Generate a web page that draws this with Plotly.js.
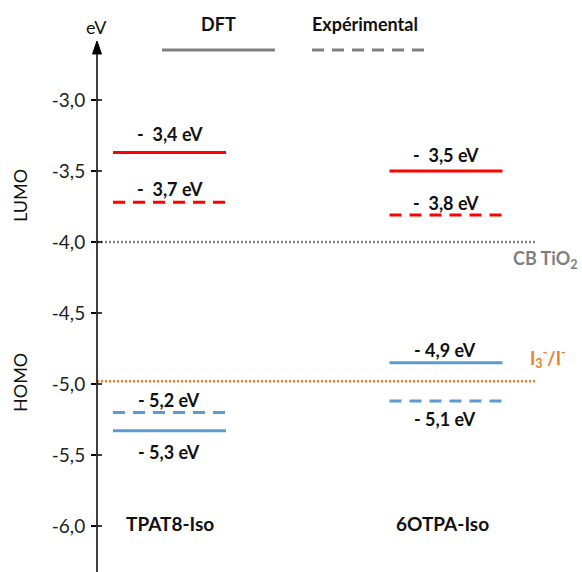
<!DOCTYPE html>
<html>
<head>
<meta charset="utf-8">
<script src="https://cdn.plot.ly/plotly-3.0.1.min.js"></script>
<style>html,body{margin:0;padding:0;background:#fff;}#chart{width:582px;height:572px;}</style>
</head>
<body>
<div id="chart"></div>
<script>
// ---- data ----
const molecules = ['TPAT8-Iso', '6OTPA-Iso'];
const dftLUMO = [-3.37, -3.50];
const expLUMO = [-3.72, -3.81];
const dftHOMO = [-5.33, -4.85];
const expHOMO = [-5.20, -5.12];
const dftLUMOLabels = ['-\u00a0\u00a03,4 eV', '-\u00a0\u00a03,5 eV'];
const expLUMOLabels = ['-\u00a0\u00a03,7 eV', '-\u00a0\u00a03,8 eV'];
const dftHOMOLabels = ['- 5,3 eV', '- 4,9 eV'];
const expHOMOLabels = ['- 5,2 eV', '- 5,1 eV'];
const refNames = ['CB TiO<sub>2</sub>', 'I<sub>3</sub><sup>-</sup>/I<sup>-</sup>'];
const refLevels = [-4.0, -4.98];
const tickValues = [-3.0, -3.5, -4.0, -4.5, -5.0, -5.5, -6.0];
const tickLabels = ['-3,0', '-3,5', '-4,0', '-4,5', '-5,0', '-5,5', '-6,0'];

// ---- layout helpers ----
const W = 582, H = 572, L = 97;
const xPos = [1, 2];
const unit = 276.5;                     // px per x unit
const xMin = 1 - (169.5 - L) / unit;
const xMax = 2 + (W - 446) / unit;
const hw = 56.5 / unit;
const yMax = -3.0 + 100 / 142, yMin = -3.0 - (H - 100) / 142;
const refEnd = 2 + (537 - 446) / unit;
const px = p => (p - L) / (W - L);
const py = p => 1 - p / H;

const RED = '#FF0000', BLUE = '#5B9BD5', GRAY = '#7F7F7F', ORANGE = '#ED7D31';
const FONT = 'Lato, "Open Sans", sans-serif';
const dashPat = '12px,8px';

const traces = [];
function level(i, v, color, dash) {
  traces.push({
    x: [xPos[i] - hw, xPos[i] + hw], y: [v, v], mode: 'lines', type: 'scatter',
    line: {color: color, width: 3, dash: dash}, hoverinfo: 'skip', showlegend: false
  });
}
molecules.forEach((m, i) => {
  level(i, dftLUMO[i], RED, 'solid');
  level(i, expLUMO[i], RED, dashPat);
  level(i, dftHOMO[i], BLUE, 'solid');
  level(i, expHOMO[i], BLUE, dashPat);
});
const refColors = [GRAY, ORANGE];
refLevels.forEach((v, k) => {
  traces.push({
    x: [xMin, refEnd], y: [v, v], mode: 'lines', type: 'scatter',
    line: {color: refColors[k], width: 2.5, dash: '2px,2px'}, hoverinfo: 'skip', showlegend: false
  });
});

const annotations = [];
const BF = {family: FONT, size: 18, color: '#111'};
const lab = (x, y, text, xs, ys) => annotations.push({
  x: x, y: y, xref: 'x', yref: 'y', xanchor: 'center', yanchor: 'middle', text: '<b>' + text + '</b>',
  showarrow: false, xshift: xs, yshift: ys, font: BF
});
const pap = (x, y, text, font, extra) => annotations.push(Object.assign({
  x: px(x), y: py(y), xref: 'paper', yref: 'paper', xanchor: 'center', yanchor: 'middle',
  text: text, showarrow: false, font: font
}, extra || {}));

lab(xPos[0], dftLUMO[0], dftLUMOLabels[0], 0.5, 19);
lab(xPos[0], expLUMO[0], expLUMOLabels[0], 0.5, 13);
lab(xPos[1], dftLUMO[1], dftLUMOLabels[1], 0, 16);
lab(xPos[1], expLUMO[1], expLUMOLabels[1], 0, 12);
lab(xPos[0], expHOMO[0], expHOMOLabels[0], -1, 12);
lab(xPos[0], dftHOMO[0], dftHOMOLabels[0], -1, -21);
lab(xPos[1], dftHOMO[1], dftHOMOLabels[1], -1, 13);
lab(xPos[1], expHOMO[1], expHOMOLabels[1], -1, -18);

// molecule names
molecules.forEach((m, i) => {
  annotations.push({x: xPos[i], y: py(523), xref: 'x', yref: 'paper', xanchor: 'center', yanchor: 'middle',
    text: '<b>' + m + '</b>', showarrow: false, xshift: [0, -4][i], font: {family: FONT, size: 19, color: '#111'}});
});

// reference labels
annotations.push({x: px(580), y: refLevels[0], xref: 'paper', yref: 'y', xanchor: 'right', yanchor: 'middle', yshift: -17,
  text: '<b>' + refNames[0] + '</b>', showarrow: false, font: {family: FONT, size: 18, color: GRAY}});
annotations.push({x: px(548), y: refLevels[1], xref: 'paper', yref: 'y', xanchor: 'center', yanchor: 'middle', yshift: 23,
  text: '<b>' + refNames[1] + '</b>', showarrow: false, font: {family: FONT, size: 18, color: ORANGE}});

const NF = {family: FONT, size: 18, color: '#111'};
pap(96, 27, 'eV', NF);
pap(20, 196, 'LUMO', NF, {textangle: -90});
pap(20, 383, 'HOMO', NF, {textangle: -90});
pap(218, 24, '<b>DFT</b>', NF);
pap(365, 24, '<b>Expérimental</b>', NF);

const shapes = [
  // legend samples
  {type: 'line', xref: 'paper', yref: 'paper', x0: px(162), x1: px(275), y0: py(50), y1: py(50),
   line: {color: '#808080', width: 3}},
  {type: 'line', xref: 'paper', yref: 'paper', x0: px(312), x1: px(425), y0: py(50), y1: py(50),
   line: {color: '#808080', width: 3, dash: '12px,8px'}},
  // vertical axis with arrow
  {type: 'line', xref: 'paper', yref: 'paper', x0: 0, x1: 0, y0: 0, y1: py(50),
   line: {color: '#000', width: 1.5}},
  {type: 'path', xref: 'paper', yref: 'paper',
   path: `M ${px(92.5)} ${py(54)} L ${px(97)} ${py(41)} L ${px(101.5)} ${py(54)} Z`,
   fillcolor: '#000', line: {color: '#000', width: 1}}
];
// inner halves of the tick marks
tickValues.forEach(v => shapes.push({type: 'line', xref: 'paper', yref: 'y', x0: 0, x1: px(102), y0: v, y1: v,
  line: {color: '#000', width: 1.5}}));

const layout = {
  width: W, height: H,
  margin: {l: L, r: 0, t: 0, b: 0, pad: 0},
  paper_bgcolor: '#fff', plot_bgcolor: '#fff',
  showlegend: false,
  xaxis: {range: [xMin, xMax], visible: false, fixedrange: true},
  yaxis: {range: [yMin, yMax], tickvals: tickValues, ticktext: tickLabels, ticks: 'outside', ticklen: 5,
    tickwidth: 1.5, tickcolor: '#000', showgrid: false, zeroline: false, showline: false,
    tickfont: {family: FONT, size: 19, color: '#222'}, ticklabelstandoff: 2},
  annotations: annotations,
  shapes: shapes
};
Plotly.newPlot('chart', traces, layout, {displayModeBar: false, staticPlot: true});
</script>
</body>
</html>
